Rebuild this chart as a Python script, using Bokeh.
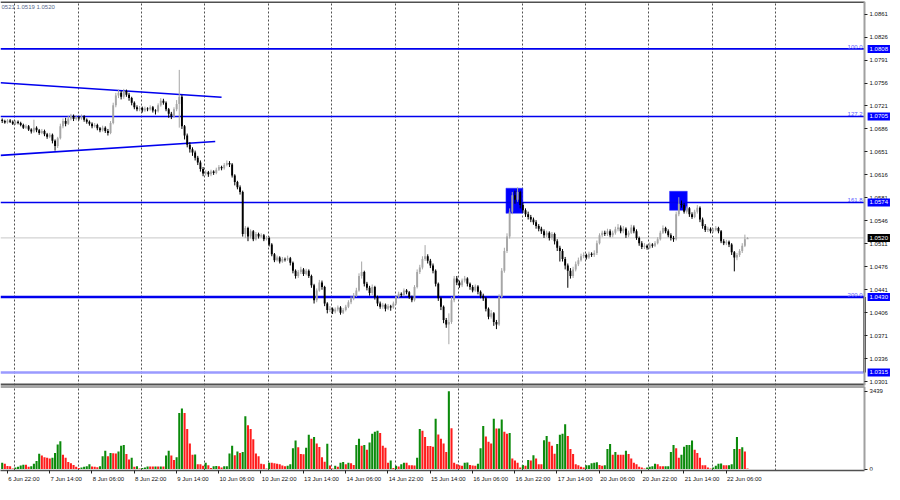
import numpy as np
from bokeh.plotting import figure
from bokeh.layouts import column
from bokeh.models import (Range1d, FixedTicker, Label, Grid, ColumnDataSource,
                          PrintfTickFormatter)
from bokeh.embed import file_html
from bokeh.resources import INLINE
from bokeh.core.properties import value

# ---------------- data (prices in pips above 1.0000, H1 bars) ----------------
FIRST_OPEN = 700
CLOSE = [698, 696, 699, 697, 694, 697, 695, 692, 688, 690,
         685, 682, 688, 684, 680, 683, 678, 674, 677, 668,
         660, 672, 690, 698, 694, 702, 706, 701, 704, 702,
         705, 700, 697, 694, 690, 692, 687, 684, 688, 683,
         680, 695, 722, 737, 741, 735, 744, 738, 733, 726,
         719, 716, 718, 714, 717, 716, 719, 714, 713, 722,
         729, 726, 716, 709, 705, 716, 724, 735, 690, 676,
         662, 655, 650, 642, 635, 625, 618, 620, 617, 621,
         619, 624, 628, 626, 631, 634, 632, 615, 605, 597,
         590, 526, 535, 522, 530, 518, 526, 522, 524, 518,
         520, 510, 495, 486, 490, 484, 488, 487, 489, 482,
         470, 462, 468, 472, 465, 470, 462, 448, 425, 440,
         452, 445, 420, 410, 412, 408, 411, 414, 406, 410,
         415, 422, 428, 432, 440, 462, 468, 450, 444, 436,
         445, 430, 420, 415, 418, 412, 416, 414, 420, 430,
         435, 433, 440, 437, 430, 425, 445, 468, 475, 488,
         492, 485, 478, 470, 450, 428, 415, 395, 388, 392,
         425, 458, 452, 448, 455, 458, 450, 445, 440, 446,
         438, 432, 428, 412, 400, 405, 392, 388, 430, 470,
         500, 522, 560, 585, 578, 590, 570, 562, 556, 552,
         548, 544, 538, 534, 530, 524, 528, 520, 526, 515,
         505, 500, 488, 478, 470, 462, 472, 480, 486, 492,
         494, 490, 496, 494, 497, 512, 524, 528, 526, 530,
         524, 528, 533, 536, 530, 534, 524, 528, 536, 530,
         520, 512, 506, 508, 505, 510, 508, 512, 518, 528,
         535, 530, 524, 520, 518, 556, 572, 570, 560, 565,
         556, 552, 560, 566, 548, 538, 532, 534, 530, 532,
         535, 530, 515, 512, 514, 510, 498, 490, 494, 500,
         508, 518, 520]
HIGH = [702, 700, 701, 701, 699, 699, 699, 697, 694, 693,
        692, 687, 700, 690, 686, 686, 685, 680, 680, 679,
        670, 674, 694, 702, 703, 706, 709, 708, 707, 706,
        708, 707, 702, 699, 696, 695, 694, 689, 691, 690,
        686, 698, 726, 741, 746, 744, 747, 746, 741, 735,
        728, 722, 721, 720, 720, 719, 722, 721, 716, 725,
        733, 732, 728, 718, 712, 719, 730, 776, 738, 692,
        679, 666, 658, 653, 645, 638, 628, 623, 622, 624,
        623, 627, 631, 630, 634, 638, 637, 634, 617, 607,
        600, 592, 538, 537, 533, 532, 529, 528, 527, 526,
        523, 522, 512, 497, 493, 492, 491, 490, 493, 491,
        484, 472, 471, 476, 474, 473, 472, 464, 450, 443,
        456, 455, 447, 422, 416, 414, 414, 417, 416, 413,
        418, 425, 431, 436, 444, 466, 484, 470, 453, 447,
        449, 447, 432, 423, 421, 420, 419, 418, 423, 433,
        438, 437, 443, 442, 439, 432, 448, 472, 479, 492,
        509, 495, 488, 481, 472, 452, 430, 417, 398, 405,
        430, 462, 462, 455, 458, 462, 460, 452, 448, 449,
        448, 440, 435, 430, 414, 410, 407, 395, 434, 474,
        505, 527, 565, 590, 592, 597, 592, 574, 565, 560,
        555, 551, 547, 541, 537, 533, 531, 530, 529, 528,
        518, 508, 503, 491, 481, 474, 476, 484, 490, 496,
        498, 496, 499, 498, 501, 516, 527, 531, 531, 534,
        533, 531, 537, 541, 539, 538, 536, 531, 540, 539,
        533, 522, 515, 512, 510, 513, 512, 515, 521, 531,
        539, 537, 533, 527, 523, 560, 582, 577, 573, 568,
        567, 559, 563, 570, 568, 551, 541, 537, 536, 535,
        538, 537, 532, 518, 517, 516, 512, 500, 497, 503,
        512, 525, 521]
LOW = [695, 694, 694, 695, 692, 692, 693, 690, 686, 686,
       683, 679, 680, 681, 677, 678, 675, 671, 672, 664,
       653, 657, 670, 687, 690, 692, 699, 698, 699, 699,
       700, 697, 694, 691, 687, 688, 684, 681, 682, 680,
       676, 678, 693, 719, 733, 731, 732, 735, 729, 722,
       716, 713, 713, 711, 712, 713, 714, 711, 708, 711,
       720, 723, 713, 703, 701, 703, 713, 688, 686, 670,
       658, 650, 645, 638, 631, 621, 614, 615, 613, 614,
       616, 617, 622, 623, 624, 629, 628, 612, 600, 594,
       586, 522, 520, 515, 519, 515, 516, 519, 520, 515,
       516, 507, 492, 483, 484, 481, 482, 484, 485, 478,
       466, 458, 459, 465, 462, 463, 459, 444, 420, 422,
       438, 441, 416, 405, 407, 404, 405, 408, 403, 404,
       408, 413, 419, 425, 430, 438, 458, 446, 440, 432,
       433, 426, 416, 412, 412, 408, 410, 409, 412, 418,
       428, 430, 431, 434, 427, 422, 423, 443, 465, 472,
       485, 481, 474, 466, 446, 424, 410, 390, 383, 358,
       389, 422, 448, 444, 445, 452, 446, 441, 437, 438,
       434, 428, 424, 408, 396, 397, 386, 381, 386, 428,
       467, 497, 519, 556, 572, 575, 565, 558, 552, 548,
       544, 540, 534, 530, 526, 520, 521, 516, 517, 510,
       500, 484, 484, 472, 444, 458, 459, 469, 477, 484,
       489, 487, 488, 491, 491, 494, 510, 521, 523, 523,
       521, 521, 525, 530, 527, 527, 520, 521, 526, 527,
       517, 508, 503, 503, 502, 503, 505, 506, 510, 516,
       526, 527, 521, 516, 514, 516, 553, 566, 557, 557,
       552, 549, 550, 557, 544, 534, 529, 529, 527, 528,
       530, 527, 512, 509, 509, 506, 494, 469, 486, 491,
       497, 506, 519]
VOLUME = [283, 240, 140, 127, 30, 70, 100, 155, 185, 185,
          100, 127, 240, 354, 680, 595, 524, 495, 467, 495,
          708, 1090, 1230, 637, 495, 311, 255, 184, 100, 42,
          70, 100, 127, 212, 113, 100, 85, 127, 566, 807,
          566, 708, 700, 690, 778, 1033, 1061, 665, 424, 495,
          100, 127, 28, 42, 70, 113, 110, 108, 115, 112,
          118, 114, 595, 807, 595, 396, 524, 2476, 2675, 2476,
          1770, 1132, 637, 640, 212, 210, 141, 283, 170, 42,
          127, 130, 125, 70, 127, 128, 693, 1033, 608, 778,
          708, 750, 2335, 1940, 1770, 1316, 693, 566, 240, 212,
          28, 283, 280, 255, 240, 212, 155, 127, 141, 212,
          920, 1260, 962, 665, 660, 948, 1514, 1344, 1415, 1132,
          976, 524, 325, 1118, 155, 28, 141, 100, 283, 311,
          212, 283, 255, 184, 1061, 1344, 1033, 1061, 849, 1174,
          1557, 1655, 1698, 1600, 1033, 948, 283, 382, 42, 141,
          113, 212, 283, 280, 170, 168, 155, 495, 1770, 1698,
          1415, 1019, 1015, 990, 2222, 1528, 1344, 1132, 750, 3439,
          1810, 283, 212, 170, 141, 283, 285, 184, 155, 141,
          240, 920, 1910, 1443, 1203, 1132, 2222, 1797, 1800, 2193,
          1656, 1557, 1600, 467, 382, 283, 70, 184, 141, 396,
          382, 608, 467, 212, 210, 1274, 1458, 1203, 1033, 680,
          1104, 1514, 1557, 1981, 1458, 891, 665, 212, 170, 100,
          70, 170, 172, 255, 283, 297, 184, 141, 170, 891,
          1104, 637, 750, 637, 635, 630, 807, 665, 467, 283,
          212, 100, 70, 28, 70, 100, 127, 240, 212, 127,
          125, 127, 128, 750, 1061, 920, 495, 637, 990, 1061,
          1065, 1260, 849, 708, 495, 170, 168, 70, 28, 70,
          141, 240, 242, 170, 168, 170, 212, 891, 1415, 891,
          962, 778, 28]

DATE_LABELS = ["6 Jun 22:00", "7 Jun 14:00", "8 Jun 06:00", "8 Jun 22:00", "9 Jun 14:00",
               "10 Jun 06:00", "10 Jun 22:00", "13 Jun 14:00", "14 Jun 06:00", "14 Jun 22:00",
               "15 Jun 14:00", "16 Jun 06:00", "16 Jun 22:00", "17 Jun 14:00", "20 Jun 06:00",
               "20 Jun 22:00", "21 Jun 14:00", "22 Jun 06:00"]
DATE_BARS = [2, 18, 34, 50, 66, 82, 98, 114, 130, 146, 162, 178, 194, 210, 226, 242, 258, 274]
GRID_BARS = [4.7, 28.7, 52.7, 76.7, 100.7, 124.7, 148.7, 172.7, 196.7, 220.7, 244.7, 268.7, 292.7]

PRICE_TICKS = [1.0861, 1.0826, 1.0791, 1.0756, 1.0721, 1.0686, 1.0651, 1.0616, 1.0581,
               1.0546, 1.0511, 1.0476, 1.0441, 1.0406, 1.0371, 1.0336, 1.0301]
FIB_LEVELS = [1.0808, 1.0705, 1.0574, 1.0430]
FIB_NAMES = ["100.0", "127.2", "161.8", "200.0"]
FIB_WIDTHS = [1.6, 1.6, 1.6, 2.4]
EXTRA_LEVEL = 1.0315
BID = 1.0520
VOL_MAX = 3439

TREND_UP_X = [-0.6, 83.0]
TREND_UP_Y = [1.07564, 1.07343]
TREND_LO_X = [-0.6, 80.6]
TREND_LO_Y = [1.06458, 1.06669]

BOX_LEFT = [190.6, 252.5]
BOX_RIGHT = [197.0, 259.2]
BOX_BOTTOM = [1.05574, 1.05620]
BOX_TOP = [1.05957, 1.05910]

HEADER = "0521 1.0519 1.0520"

# ---------------- derived ----------------
n = len(CLOSE)
idx = np.arange(n)
c = 1 + np.array(CLOSE) / 10000.0
o = 1 + np.array([FIRST_OPEN] + CLOSE[:-1]) / 10000.0
h = 1 + np.array(HIGH) / 10000.0
l = 1 + np.array(LOW) / 10000.0
bull = c >= o

X_START, X_AXIS, X_END = -0.64, 326.3, 336.85
Y_START, Y_END = 1.02951, 1.08802
V_START, V_END = -64, 3653

FONT = "Liberation Sans"
FS = "6px"
BORDER = "#505050"

xr = Range1d(X_START, X_END)


def base_fig(height, y_range, below, min_bottom, min_top):
    f = figure(width=892, height=height, x_range=xr, y_range=y_range,
               x_axis_location="below" if below else None, y_axis_location="right",
               toolbar_location=None, output_backend="svg",
               min_border_left=0, min_border_right=0,
               min_border_top=min_top, min_border_bottom=min_bottom)
    f.outline_line_color = None
    f.xgrid.visible = False
    f.ygrid.visible = False
    f.background_fill_color = "white"
    f.border_fill_color = "white"
    f.add_layout(Grid(dimension=0, ticker=FixedTicker(ticks=GRID_BARS),
                      grid_line_color="#505050", grid_line_dash="2 2", grid_line_width=1))
    ax = f.yaxis[0]
    ax.fixed_location = X_AXIS
    ax.major_label_text_font = FONT
    ax.major_label_text_font_size = FS
    ax.major_label_text_color = "#111111"
    ax.major_tick_out = 3
    ax.major_tick_in = 0
    ax.major_tick_line_color = "#222222"
    ax.minor_tick_line_color = None
    ax.axis_line_color = "#a0a0a0"
    ax.axis_line_width = 2
    ax.major_label_standoff = 2
    return f


# ---------------- price panel ----------------
p1 = base_fig(386, Range1d(Y_START, Y_END), False, 1, 1)

p1.quad(left=BOX_LEFT, right=BOX_RIGHT, bottom=BOX_BOTTOM, top=BOX_TOP,
        fill_color="#0000ff", line_color="#3030ff", line_width=0.5)

p1.segment(x0=[X_START], y0=[BID], x1=[X_AXIS], y1=[BID], line_color="#c8c8c8", line_width=1)
p1.segment(x0=[X_START], y0=[EXTRA_LEVEL], x1=[X_AXIS], y1=[EXTRA_LEVEL],
           line_color="#9a9aff", line_width=2.5)
p1.segment(x0=[X_START] * 4, y0=FIB_LEVELS, x1=[X_AXIS] * 4, y1=FIB_LEVELS,
           line_color="#0000ee", line_width=FIB_WIDTHS)

p1.text(x=[X_AXIS] * len(FIB_LEVELS), y=FIB_LEVELS, text=FIB_NAMES, x_offset=-2, y_offset=0,
        text_align="right", text_baseline="bottom", text_font=value(FONT),
        text_font_size=FS, text_color="#5555ff")

p1.line(TREND_UP_X, TREND_UP_Y, line_color="#0000ee", line_width=1.6)
p1.line(TREND_LO_X, TREND_LO_Y, line_color="#0000ee", line_width=1.6)

for mask, col in ((bull, "#a6a6a6"), (~bull, "#000000")):
    src = ColumnDataSource(dict(x=idx[mask], h=h[mask], l=l[mask],
                                top=np.maximum(o, c)[mask], bot=np.minimum(o, c)[mask]))
    p1.segment(x0="x", y0="l", x1="x", y1="h", source=src, line_color=col, line_width=1)
    p1.vbar(x="x", width=0.72, top="top", bottom="bot", source=src,
            fill_color=col, line_color=None)

# frame borders
p1.segment(x0=[X_START, X_START], y0=[Y_END, Y_START], x1=[X_AXIS, X_AXIS], y1=[Y_END, Y_START],
           line_color=BORDER, line_width=[3, 4])

ya = p1.yaxis[0]
ya.ticker = FixedTicker(ticks=PRICE_TICKS)
ya.formatter = PrintfTickFormatter(format="%.4f")

# axis shift marker
p1.segment(x0=[X_AXIS], y0=[FIB_LEVELS[3]], x1=[X_AXIS], y1=[EXTRA_LEVEL],
           line_color="black", line_width=2.5)

# highlighted axis labels
for lv in FIB_LEVELS + [EXTRA_LEVEL]:
    p1.add_layout(Label(x=X_AXIS, y=lv, x_offset=3, text="%.4f" % lv, text_font=FONT,
                        text_font_size=FS, text_color="white", text_align="left",
                        text_baseline="middle", background_fill_color="#0000ff", padding=2))
p1.add_layout(Label(x=X_AXIS, y=BID, x_offset=3, text="%.4f" % BID, text_font=FONT,
                    text_font_size=FS, text_color="white", text_align="left",
                    text_baseline="middle", background_fill_color="#000000", padding=2))

p1.add_layout(Label(x=X_START, y=Y_END, x_offset=1, y_offset=-2, text=HEADER, text_font=FONT,
                    text_font_size=FS, text_color="#55678a", text_align="left",
                    text_baseline="top"))

# ---------------- volume panel ----------------
p2 = base_fig(98, Range1d(V_START, V_END), True, 14, 0)

vol = np.array(VOLUME)
up = np.concatenate([[True], vol[1:] > vol[:-1]])
vcol = np.where(up, "#0b8a0b", "#ff1c1c")
p2.vbar(x=idx, width=0.78, top=vol, bottom=0, fill_color=vcol, line_color=None)

p2.segment(x0=[X_START], y0=[V_END], x1=[X_AXIS], y1=[V_END], line_color=BORDER, line_width=2)

va = p2.yaxis[0]
va.ticker = FixedTicker(ticks=[0, VOL_MAX])
va.formatter = PrintfTickFormatter(format="%d")

centers = [round(b + 6.2 + 0.6 * (len(t) - 11), 2) for b, t in zip(DATE_BARS, DATE_LABELS)]
xa = p2.xaxis[0]
xa.ticker = FixedTicker(ticks=centers, minor_ticks=[b - 0.1 for b in DATE_BARS])
xa.major_label_overrides = {cc: t for cc, t in zip(centers, DATE_LABELS)}
xa.bounds = (X_START, X_AXIS)
xa.major_label_text_font = FONT
xa.major_label_text_font_size = FS
xa.major_label_text_color = "#111111"
xa.major_tick_out = 0
xa.major_tick_in = 0
xa.minor_tick_out = 3
xa.minor_tick_in = 0
xa.minor_tick_line_color = "#222222"
xa.axis_line_color = BORDER
xa.axis_line_width = 1.5
xa.major_label_standoff = 2

layout = column(p1, p2, spacing=0)
open("out.html", "w").write(file_html(layout, INLINE))
